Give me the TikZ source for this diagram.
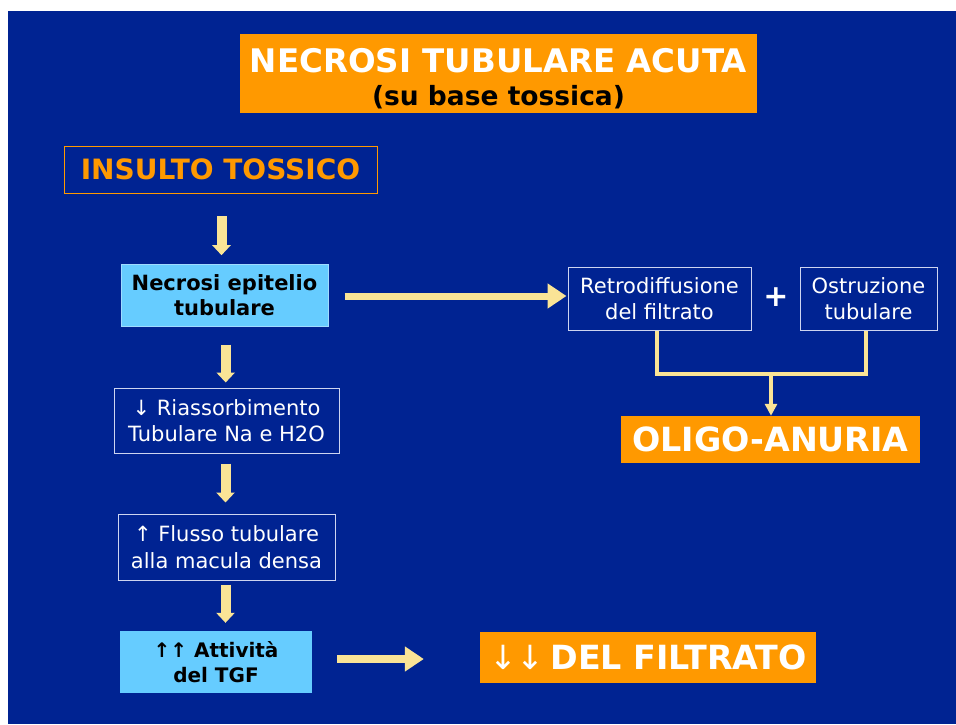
\documentclass[tikz,border=0pt]{standalone}
\usepackage{fontspec}
\setmainfont{DejaVu Sans}
\usetikzlibrary{arrows.meta,calc}
\definecolor{bg}{RGB}{0,35,146}
\definecolor{orng}{RGB}{255,153,0}
\definecolor{lblue}{RGB}{102,204,255}
\definecolor{lblueline}{RGB}{160,220,255}
\definecolor{pyel}{RGB}{250,228,150}
\definecolor{wline}{RGB}{205,212,240}
\begin{document}
\begin{tikzpicture}[x=1pt,y=-1pt,
  wbox/.style={draw=wline, line width=1pt, text=white, align=center, inner sep=0pt,
    font=\fontsize{21}{26.5}\selectfont},
  bluebox/.style={fill=lblue, text=black, align=center, inner sep=0pt,
    font=\bfseries\fontsize{21}{25.5}\selectfont},
  orbox/.style={fill=orng, text=white, align=center, inner sep=0pt,
    font=\bfseries\fontsize{33.3}{40}\selectfont},
  varrow/.style={draw=pyel, line width=10pt, -{Triangle[length=10pt,width=18pt]}},
  harrow/.style={draw=pyel, line width=8pt, -{Triangle[length=19pt,width=24pt]}},
  conn/.style={draw=pyel, line width=4pt},
  carrow/.style={draw=pyel, line width=4pt, -{Triangle[length=12pt,width=12pt]}}
]
\useasboundingbox (0,0) rectangle (956,724);
\fill[white] (0,0) rectangle (956,724);
\fill[bg] (8,11) rectangle (956,724);

% title
\node[orbox, minimum width=517pt, minimum height=79pt] (title) at (498.5,73.5) {};
\node[text=white, anchor=base, inner sep=0pt, font=\bfseries\fontsize{32.5}{36}\selectfont]
  (titleA) at (title.center |- 0,72) {NECROSI TUBULARE ACUTA};
\node[text=black, anchor=base, inner sep=0pt, font=\bfseries\fontsize{26.5}{28}\selectfont]
  (titleB) at (title.center |- 0,105) {(su base tossica)};

% left column
\node[draw=orng, line width=1pt, text=orng, inner sep=0pt, minimum width=313pt, minimum height=47pt,
  font=\bfseries\fontsize{28}{30}\selectfont] (insulto) at (220.5,169.5) {INSULTO TOSSICO};
\node[bluebox, draw=lblueline, line width=1pt, minimum width=207pt, minimum height=62pt] (necrosi) at (224.5,295)
  {Necrosi epitelio\\tubulare};
\node[wbox, minimum width=225pt, minimum height=65pt] (riass) at (226.5,420.5)
  {↓ Riassorbimento\\Tubulare Na e H2O};
\node[wbox, minimum width=217pt, minimum height=66pt] (flusso) at (226.5,547)
  {↑ Flusso tubulare\\alla macula densa};
\node[bluebox, font=\bfseries\fontsize{20}{25.5}\selectfont, minimum width=192pt, minimum height=62pt] (attiv) at (216,662)
  {↑↑ Attività\\del TGF};

% right side
\node[wbox, minimum width=183pt, minimum height=63pt] (retro) at (659.5,298.5)
  {Retrodiffusione\\del filtrato};
\node[text=white, inner sep=0pt, font=\bfseries\fontsize{30}{30}\selectfont] (plus) at (776,297) {+};
\node[wbox, minimum width=137pt, minimum height=63pt] (ostru) at (868.5,298.5)
  {Ostruzione\\tubulare};
\node[orbox, minimum width=299pt, minimum height=47pt] (oligo) at (770.5,439.5) {OLIGO-ANURIA};
\node[orbox, minimum width=336pt, minimum height=51pt] (delfil) at (648,657.5)
  {{\mdseries ↓↓}\,DEL FILTRATO};

% vertical arrows
\draw[varrow] ($(insulto.south)+(1,22.7)$) -- ($(necrosi.north)+(-3,-8.3)$);
\draw[varrow] ($(necrosi.south)+(1.2,18)$) -- ($(riass.north)+(-0.8,-5)$);
\draw[varrow] ($(riass.south)+(-1,10)$) -- ($(flusso.north)+(-1,-11)$);
\draw[varrow] ($(flusso.south)+(-1,4)$) -- ($(attiv.north)+(9.5,-8)$);

% horizontal arrows
\draw[harrow, line width=7pt] ($(necrosi.east)+(16,1)$) -- ($(retro.west)+(-1,-2.5)$);
\draw[harrow] ($(attiv.east)+(25,-3)$) -- ($(delfil.west)+(-56,1.5)$);

% merge connector
\coordinate (j) at (771,373);
\draw[conn] ($(retro.south)+(-2.5,0)$) |- ($(ostru.south)+(-2.5,43)$) -- ($(ostru.south)+(-2.5,0)$);
\draw[carrow] (j) -- (j |- oligo.north);
\end{tikzpicture}
\end{document}
